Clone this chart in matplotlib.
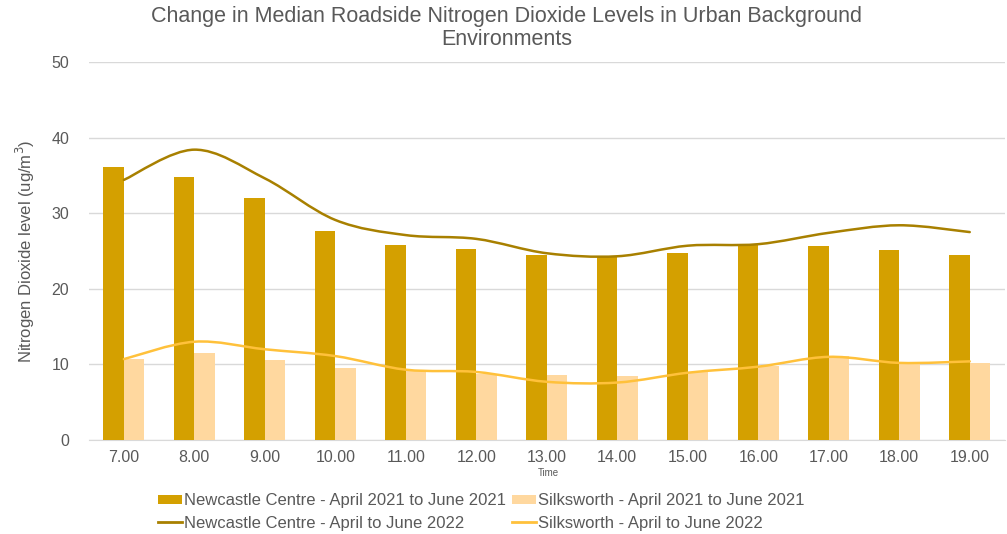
import matplotlib.pyplot as plt
import numpy as np
from matplotlib.path import Path
from matplotlib.patches import PathPatch, Patch
from matplotlib.lines import Line2D

plt.rcParams["font.family"] = ["Liberation Sans", "DejaVu Sans"]

horas = ["7.00", "8.00", "9.00", "10.00", "11.00", "12.00", "13.00",
         "14.00", "15.00", "16.00", "17.00", "18.00", "19.00"]
newcastle_2021 = [36.1, 34.8, 32.0, 27.7, 25.8, 25.2, 24.5, 24.2, 24.7, 25.9, 25.7, 25.1, 24.5]
silksworth_2021 = [10.7, 11.5, 10.6, 9.5, 9.1, 8.7, 8.6, 8.5, 9.0, 9.8, 11.1, 10.2, 10.2]
newcastle_2022 = [34.4, 38.4, 34.6, 29.1, 27.1, 26.6, 24.7, 24.3, 25.7, 25.9, 27.4, 28.4, 27.5]
silksworth_2022 = [10.7, 13.0, 12.0, 11.1, 9.3, 9.0, 7.7, 7.6, 8.9, 9.7, 11.0, 10.2, 10.4]

COR_NC_BAR = "#D4A000"
COR_SK_BAR = "#FFD89F"
COR_NC_LIN = "#A88000"
COR_SK_LIN = "#FFC13B"
CINZA = "#595959"


def _curva_suave(ax, xs, ys, cor, lw=1.8):
    """Linha suavizada estilo Excel (Catmull-Rom como Béziers cúbicas)."""
    pts = np.column_stack([xs, ys]).astype(float)
    ext = np.vstack([pts[0], pts, pts[-1]])
    verts = [tuple(pts[0])]
    codes = [Path.MOVETO]
    for i in range(1, len(ext) - 2):
        p0, p1, p2, p3 = ext[i - 1], ext[i], ext[i + 1], ext[i + 2]
        c1 = p1 + (p2 - p0) / 6.0
        c2 = p2 - (p3 - p1) / 6.0
        verts += [tuple(c1), tuple(c2), tuple(p2)]
        codes += [Path.CURVE4] * 3
    ax.add_patch(PathPatch(Path(verts, codes), facecolor="none",
                           edgecolor=cor, linewidth=lw, zorder=4,
                           capstyle="round"))


fig = plt.figure(figsize=(10.07, 5.34), dpi=100)
ax = fig.add_axes([0.088, 0.176, 0.910, 0.708])

x = np.arange(len(horas))
largura = 0.29
ax.bar(x - largura / 2, newcastle_2021, width=largura, color=COR_NC_BAR, zorder=3)
ax.bar(x + largura / 2, silksworth_2021, width=largura, color=COR_SK_BAR, zorder=3)
_curva_suave(ax, x, newcastle_2022, COR_NC_LIN)
_curva_suave(ax, x, silksworth_2022, COR_SK_LIN)

ax.set_xlim(-0.5, len(horas) - 0.5)
ax.set_ylim(0, 50)
ax.set_yticks(range(0, 51, 10))
ax.set_xticks(x)
ax.set_xticklabels(horas)
ax.tick_params(axis="both", length=0, labelsize=11.5, colors=CINZA)
ax.tick_params(axis="x", pad=7)
ax.tick_params(axis="y", pad=14)
ax.grid(axis="y", color="#D9D9D9", linewidth=1, zorder=0)
ax.set_axisbelow(True)
for lado in ("top", "right", "left"):
    ax.spines[lado].set_visible(False)
ax.spines["bottom"].set_color("#D9D9D9")

ax.set_ylabel("Nitrogen Dioxide level (ug/m$^3$)", fontsize=12, color=CINZA, labelpad=10)
fig.text(0.545, 0.108, "Time", fontsize=7, color=CINZA, ha="center")

fig.suptitle("Change in Median Roadside Nitrogen Dioxide Levels in Urban Background\nEnvironments",
             x=0.503, y=0.988, fontsize=15.5, color=CINZA, linespacing=1.1)

handles = [
    Patch(facecolor=COR_NC_BAR),
    Line2D([], [], color=COR_NC_LIN, linewidth=2),
    Patch(facecolor=COR_SK_BAR),
    Line2D([], [], color=COR_SK_LIN, linewidth=2),
]
labels = [
    "Newcastle Centre - April 2021 to June 2021",
    "Newcastle Centre - April to June 2022",
    "Silksworth - April 2021 to June 2021",
    "Silksworth - April to June 2022",
]
leg = fig.legend(handles, labels, ncol=2, loc="lower left",
                 bbox_to_anchor=(0.142, -0.022), frameon=False, fontsize=12,
                 handlelength=1.45, handleheight=0.5, handletextpad=0.12,
                 columnspacing=0.35, labelspacing=0.45)
for t in leg.get_texts():
    t.set_color(CINZA)

fig.savefig("out.png", dpi=100)
